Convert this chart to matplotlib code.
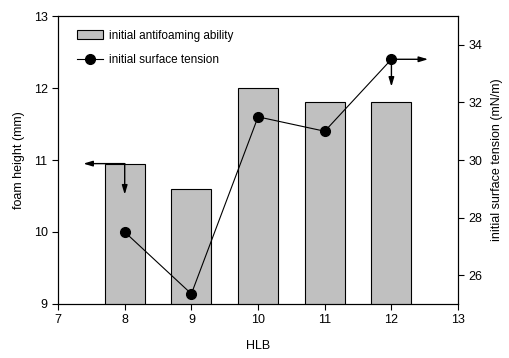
import matplotlib
matplotlib.use("Agg")
import matplotlib.pyplot as plt
from matplotlib.patches import Patch
from matplotlib.lines import Line2D

plt.rcParams["font.family"] = ["Liberation Sans", "DejaVu Sans"]
plt.rcParams["font.size"] = 9

# data
hlb = [8, 9, 10, 11, 12]
foam_height = [10.95, 10.6, 12.0, 11.8, 11.8]
surface_tension = [27.5, 25.35, 31.5, 31.0, 33.5]

fig = plt.figure(figsize=(5.09, 3.58), dpi=100)
ax = fig.add_axes([0.114, 0.151, 0.786, 0.804])
ax2 = ax.twinx()

ax.bar(hlb, foam_height, width=0.6, bottom=0, color="#c0c0c0",
       edgecolor="black", linewidth=0.8, zorder=2)
ax.set_xlim(7, 13)
ax.set_ylim(9, 13)
ax.set_xticks(range(7, 14))
ax.set_yticks([9, 10, 11, 12, 13])
ax.set_xlabel("HLB", fontsize=9, labelpad=10)
ax.set_ylabel("foam height (mm)", fontsize=9, labelpad=6)

ax2.plot(hlb, surface_tension, color="black", linewidth=0.8,
         marker="o", markersize=7, zorder=3)
ax2.set_ylim(25, 35)
ax2.set_yticks([26, 28, 30, 32, 34])
ax2.set_ylabel("initial surface tension (mN/m)", fontsize=9, labelpad=6)

for a in (ax, ax2):
    a.tick_params(direction="out", length=4, width=0.8, labelsize=9)
    for s in a.spines.values():
        s.set_linewidth(0.8)

arrow_kw = dict(arrowstyle="-|>,head_length=0.6,head_width=0.18", color="black", lw=1.0,
                shrinkA=0, shrinkB=0)
# arrows pointing at the axis each series belongs to
ax.annotate("", xy=(7.38, foam_height[0]), xytext=(8, foam_height[0]), arrowprops=arrow_kw)
ax.annotate("", xy=(8, 10.52), xytext=(8, foam_height[0]), arrowprops=arrow_kw)
ax2.annotate("", xy=(12.55, surface_tension[-1]), xytext=(12, surface_tension[-1]),
             arrowprops=arrow_kw)
ax2.annotate("", xy=(12, 32.55), xytext=(12, surface_tension[-1]), arrowprops=arrow_kw)

handles = [
    Patch(facecolor="#c0c0c0", edgecolor="black", linewidth=0.8),
    Line2D([0], [0], color="black", linewidth=0.8, marker="o", markersize=7),
]
ax2.legend(handles, ["initial antifoaming ability", "initial surface tension"],
           loc="upper left", bbox_to_anchor=(0.02, 0.99), frameon=False,
           fontsize=8.5, handlelength=2.2, handleheight=0.7, labelspacing=1.05,
           handletextpad=0.5)

fig.savefig("out.png", dpi=100)
